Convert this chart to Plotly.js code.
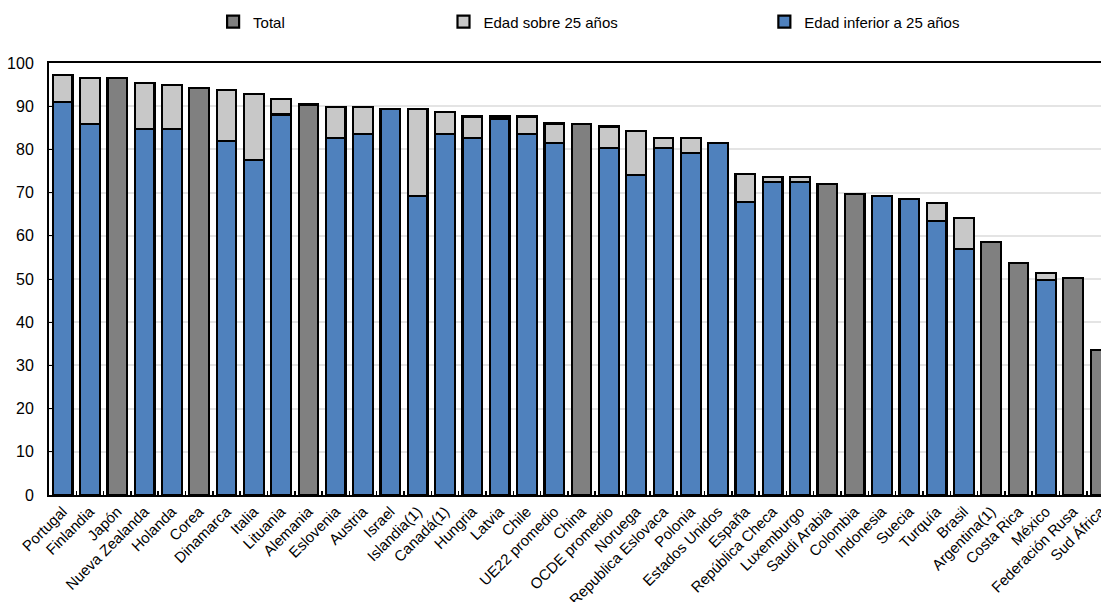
<!DOCTYPE html>
<html>
<head>
<meta charset="utf-8">
<script src="https://cdn.plot.ly/plotly-3.0.1.min.js"></script>
<style>html,body{margin:0;padding:0;background:#fff;}#chart{width:1101px;height:602px;}</style>
</head>
<body>
<div id="chart"></div>
<script>
const categories = ["Portugal","Finlandia","Japón","Nueva Zealanda","Holanda","Corea","Dinamarca","Italia","Lituania","Alemania","Eslovenia","Austria","Israel","Islandia(1)","Canadá(1)","Hungria","Latvia","Chile","UE22 promedio","China","OCDE promedio","Noruega","Republica Eslovaca","Polonia","Estados Unidos","España","República Checa","Luxemburgo","Saudi Arabia","Colombia","Indonesia","Suecia","Turquía","Brasil","Argentina(1)","Costa Rica","México","Federación Rusa","Sud África"];

const total = [null,null,96.5,null,null,94.3,null,null,null,90.4,null,null,null,null,null,null,null,null,null,85.9,null,null,null,null,null,null,null,null,72.0,69.7,null,null,null,null,58.5,53.7,null,50.2,33.6];

const under25 = [90.9,85.9,null,84.7,84.7,null,82.0,77.6,88.1,null,82.6,83.6,89.3,69.2,83.6,82.6,87.0,83.6,81.4,null,80.3,74.1,80.3,79.1,81.4,67.9,72.4,72.4,null,null,69.2,68.6,63.5,56.9,null,null,49.7,null,null];

const over25 = [6.3,10.6,null,10.7,10.2,null,11.8,15.2,3.5,null,7.2,6.2,null,20.1,5.1,5.0,0.6,4.0,4.6,null,5.0,10.2,2.3,3.5,null,6.4,1.3,1.3,null,null,null,null,4.1,7.3,null,null,1.7,null,null];

const FONT = "'Liberation Sans', Arial, sans-serif";
const line = {color:'#000000', width:2.2};

const traces = [
  {type:'bar', name:'Total', x:categories, y:total, marker:{color:'#808080', line:line}, legend:'legend'},
  {type:'bar', name:'Edad inferior a 25 años', x:categories, y:under25, marker:{color:'#4F81BD', line:line}, legend:'legend3'},
  {type:'bar', name:'Edad sobre 25 años', x:categories, y:over25, marker:{color:'#C8C8C8', line:line}, legend:'legend2'}
];

const legBase = {orientation:'h', yanchor:'middle', xanchor:'left', y:1.095, bgcolor:'rgba(0,0,0,0)', borderwidth:0, font:{family:FONT, size:15, color:'#000'}, itemwidth:30};

const layout = {
  width:1101, height:602,
  margin:{l:49, r:0, t:63, b:106.5},
  paper_bgcolor:'#ffffff', plot_bgcolor:'#ffffff',
  barmode:'stack', bargap:0.28,
  font:{family:FONT, size:15, color:'#000'},
  xaxis:{type:'category', range:[-0.5, 38.02], tickangle:-45, showline:true, linecolor:'#000', linewidth:2, mirror:true,
         ticks:'inside', tickson:'boundaries', ticklen:4, tickcolor:'#000', tickwidth:1.5, showgrid:false,
         tickfont:{family:FONT, size:15, color:'#000'}, automargin:false},
  yaxis:{range:[0,100], dtick:10, showline:true, linecolor:'#000', linewidth:2, ticks:'inside', ticklen:4, tickcolor:'#000',
         ticklabelstandoff:10,
         gridcolor:'#e4e4e4', gridwidth:2, zeroline:false, tickfont:{family:FONT, size:16, color:'#000'}, automargin:false},
  legend: Object.assign({}, legBase, {x:0.156}),
  legend2: Object.assign({}, legBase, {x:0.375}),
  legend3: Object.assign({}, legBase, {x:0.680}),
  showlegend:true
};

Plotly.newPlot('chart', traces, layout, {displayModeBar:false, staticPlot:true});
</script>
</body>
</html>
